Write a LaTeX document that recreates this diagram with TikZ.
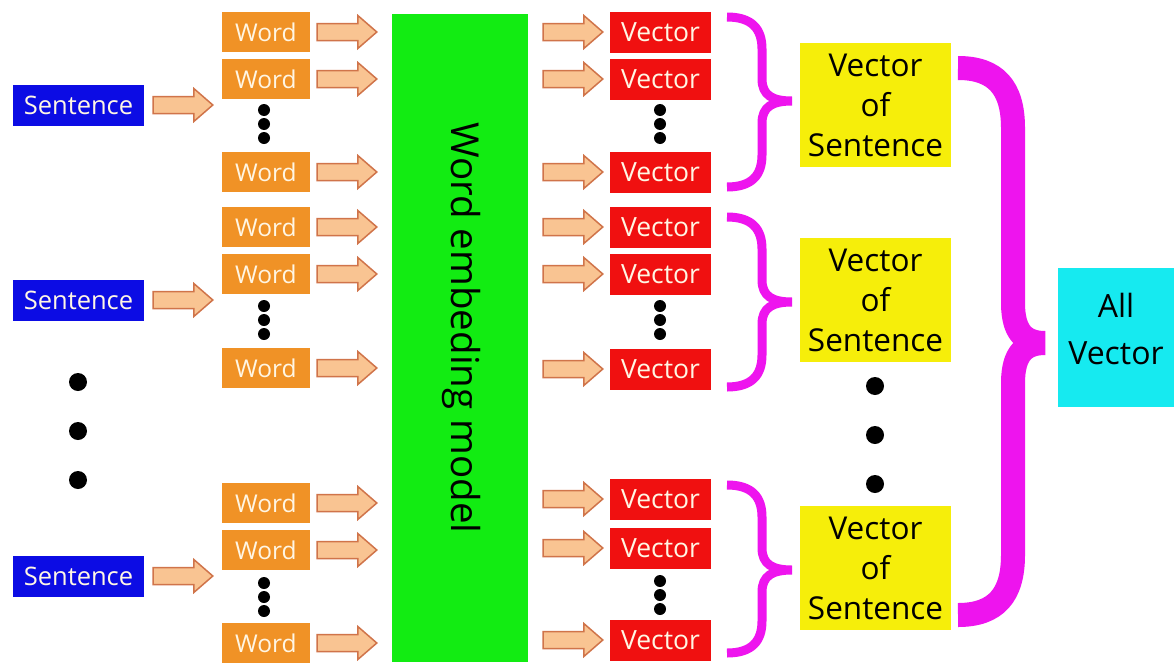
\documentclass[tikz,border=0pt]{standalone}
\usepackage{fontspec}
\setmainfont{Open Sans}
\usetikzlibrary{calc}
\definecolor{sblue}{RGB}{12,12,228}
\definecolor{worange}{RGB}{240,146,38}
\definecolor{vred}{RGB}{240,16,16}
\definecolor{mgreen}{RGB}{18,236,18}
\definecolor{bmag}{RGB}{238,20,238}
\definecolor{yel}{RGB}{246,238,10}
\definecolor{cya}{RGB}{22,234,240}
\definecolor{afill}{RGB}{249,196,146}
\definecolor{aline}{RGB}{208,116,74}
\definecolor{cream}{RGB}{255,246,228}
\tikzset{
  box/.style={inner sep=0pt, anchor=center, align=center},
  sentbox/.style={box, fill=sblue, text=cream, minimum width=131pt, minimum height=41pt, font=\fontsize{25.5}{30}\selectfont},
  wordbox/.style={box, fill=worange, text=cream, minimum width=88pt, minimum height=40pt, font=\fontsize{24.5}{30}\selectfont},
  vecbox/.style={box, fill=vred, text=cream, minimum width=101pt, minimum height=41pt, font=\fontsize{26.5}{30}\selectfont},
  ybox/.style={box, fill=yel, text=black, minimum width=151pt, minimum height=124pt, font=\fontsize{31.5}{40}\selectfont},
  cbox/.style={box, fill=cya, minimum width=116pt, minimum height=139pt},
  ctext/.style={box, text=black, font=\fontsize{32}{47}\selectfont},
  gbox/.style={box, fill=mgreen, minimum width=136pt, minimum height=648pt},
  barrowst/.style={fill=afill, draw=aline, line width=1.5pt, line join=miter},
  sbracest/.style={draw=bmag, line width=9pt, line cap=butt, line join=bevel},
  bbracest/.style={draw=bmag, line width=24pt, line cap=butt, line join=bevel},
  sdot/.style={circle, fill=black, inner sep=0pt, minimum size=12pt},
  bdot/.style={circle, fill=black, inner sep=0pt, minimum size=18pt}
}
% block arrow from #1 (+gap #3) to #2 (-gap #4)
\newcommand\barrow[4]{%
  \draw[barrowst] let \p1=($#1+(#3,0)$), \p2=($#2-(#4,0)$) in
    (\x1,\y1+8.5pt) -- (\x2-19pt,\y1+8.5pt) -- (\x2-19pt,\y1+16.5pt) -- (\x2,\y1)
    -- (\x2-19pt,\y1-16.5pt) -- (\x2-19pt,\y1-8.5pt) -- (\x1,\y1-8.5pt) -- cycle;}
\newcommand\sbrace[3]{%
  \draw[sbracest] (727,#1) .. controls (752,#1) and (762,{#1+12}) .. (762,{#1+32})
    -- (762,{#2-22}) .. controls (762,{#2-6}) and (772,#2) .. (792,#2)
    .. controls (772,#2) and (762,{#2+6}) .. (762,{#2+22})
    -- (762,{#3-32}) .. controls (762,{#3-12}) and (752,#3) .. (727,#3);}
\begin{document}
\begin{tikzpicture}[x=1pt,y=-1pt]
\useasboundingbox[fill=white] (0,0) rectangle (1174,664);

% green model
\node[gbox] (model) at (460,338) {};
\node[rotate=-90, font=\fontsize{38.5}{44}\selectfont] (mtext) at (461,328) {Word embeding model};

% sentences
\node[sentbox] (s1) at (78.5,105) {Sentence};
\node[sentbox] (s2) at (78.5,300) {Sentence};
\node[sentbox] (s3) at (78.5,576) {Sentence};
\node[bdot] (ld1) at (78,382) {};
\node[bdot] (ld2) at (78,431) {};
\node[bdot] (ld3) at (78,480) {};

% words
\node[wordbox] (w11) at (266,32) {Word};
\node[wordbox] (w12) at (266,79) {Word};
\node[wordbox] (w13) at (266,172) {Word};
\node[wordbox] (w21) at (266,227) {Word};
\node[wordbox] (w22) at (266,274) {Word};
\node[wordbox] (w23) at (266,368) {Word};
\node[wordbox] (w31) at (266,503) {Word};
\node[wordbox] (w32) at (266,550) {Word};
\node[wordbox] (w33) at (266,643) {Word};
\foreach \g/\y in {1/110,2/306,3/583}{
  \node[sdot] (wd\g a) at (264,\y) {};
  \node[sdot] (wd\g b) at (264,\y+14) {};
  \node[sdot] (wd\g c) at (264,\y+28) {};
}

% vectors
\node[vecbox] (v11) at (660.5,32) {Vector};
\node[vecbox] (v12) at (660.5,79) {Vector};
\node[vecbox] (v13) at (660.5,172) {Vector};
\node[vecbox] (v21) at (660.5,227) {Vector};
\node[vecbox] (v22) at (660.5,274) {Vector};
\node[vecbox] (v23) at (660.5,369) {Vector};
\node[vecbox] (v31) at (660.5,499) {Vector};
\node[vecbox] (v32) at (660.5,548) {Vector};
\node[vecbox] (v33) at (660.5,640) {Vector};
\foreach \g/\y in {1/110,2/306,3/581}{
  \node[sdot] (vd\g a) at (660,\y) {};
  \node[sdot] (vd\g b) at (660,\y+14) {};
  \node[sdot] (vd\g c) at (660,\y+28) {};
}

% arrows sentence -> words
\barrow{(s1.east)}{(w11.west |- s1.east)}{9}{9}
\barrow{(s2.east)}{(w21.west |- s2.east)}{9}{9}
\barrow{(s3.east)}{(w31.west |- s3.east)}{9}{9}

% arrows words -> model
\foreach \w in {w11,w12,w13,w21,w22,w23,w31,w32,w33}{
  \barrow{(\w.east)}{(model.west |- \w.east)}{7}{15}
}
% arrows model -> vectors
\foreach \v in {v11,v12,v13,v21,v22,v23,v31,v32,v33}{
  \barrow{(model.east |- \v.west)}{(\v.west)}{15}{7}
}

% sentence vectors
\node[ybox] (y1) at (875.5,105) {Vector\\of\\Sentence};
\node[ybox] (y2) at (875.5,300) {Vector\\of\\Sentence};
\node[ybox] (y3) at (875.5,568) {Vector\\of\\Sentence};
\node[bdot] (yd1) at (875,386) {};
\node[bdot] (yd2) at (875,435) {};
\node[bdot] (yd3) at (875,484) {};

% small braces
\sbrace{17}{101}{187}
\sbrace{217}{302}{387}
\sbrace{485}{570}{653}

% big brace
\draw[bbracest] (958,68) .. controls (996,68) and (1013,88) .. (1013,128)
  -- (1013,303) .. controls (1013,333) and (1025,343) .. (1045,343)
  .. controls (1025,343) and (1013,353) .. (1013,383)
  -- (1013,555) .. controls (1013,595) and (996,615) .. (958,615);

% all vector
\node[cbox] (all) at (1116,337.5) {};
\node[ctext] (alltext) at (1116,329) {All\\Vector};
\end{tikzpicture}
\end{document}
